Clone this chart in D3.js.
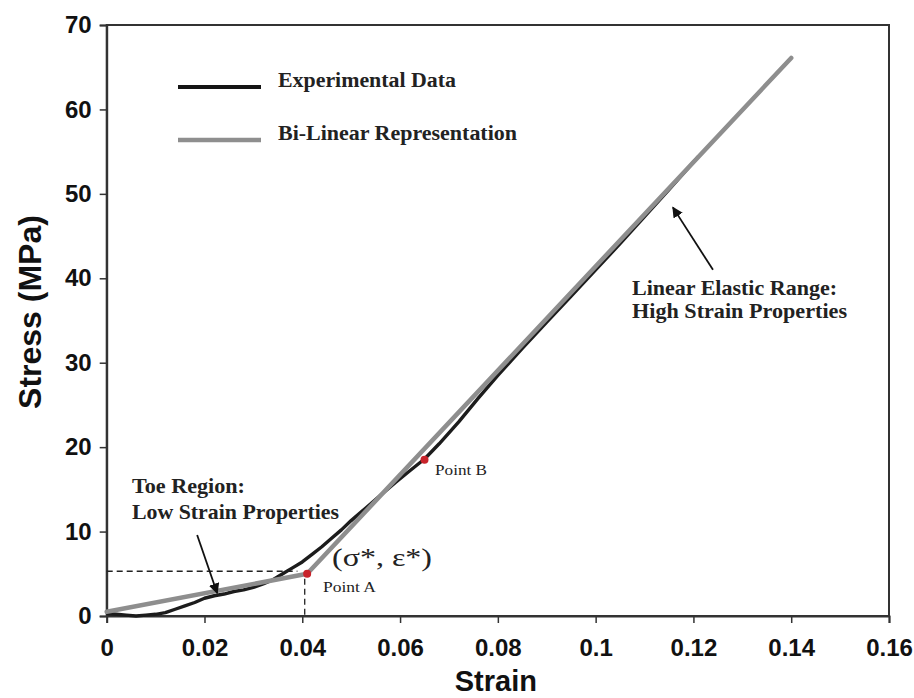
<!DOCTYPE html>
<html>
<head>
<meta charset="utf-8">
<script src="https://cdn.jsdelivr.net/npm/d3@7"></script>
<style>
  html, body { margin: 0; padding: 0; background: #fff; }
  svg { display: block; }
  .tick text { font-family: "Liberation Sans", Arial, sans-serif; font-weight: bold; font-size: 24px; fill: #111; }
  .serif { font-family: "Liberation Serif", "Times New Roman", serif; fill: #222; }
</style>
</head>
<body>
<div id="chart"></div>
<script>
// experimental stress-strain curve (strain, stress in MPa)
const expStrain = [0, 0.002, 0.004, 0.006, 0.008, 0.010, 0.012, 0.014, 0.016, 0.018, 0.020, 0.022, 0.024, 0.026,
  0.028, 0.030, 0.032, 0.034, 0.036, 0.038, 0.040, 0.042, 0.044, 0.046, 0.048, 0.050, 0.053, 0.056, 0.059, 0.062,
  0.065, 0.068, 0.072, 0.076, 0.080, 0.085, 0.090, 0.095, 0.100, 0.105, 0.110, 0.115, 0.121];
const expStress = [0.3, 0.2, 0.1, 0.0, 0.1, 0.2, 0.4, 0.8, 1.2, 1.6, 2.1, 2.4, 2.6, 2.9,
  3.1, 3.4, 3.8, 4.3, 5.0, 5.7, 6.4, 7.3, 8.2, 9.2, 10.2, 11.3, 12.8, 14.3, 15.8, 17.2,
  18.6, 20.4, 23.0, 25.8, 28.5, 31.7, 34.8, 37.9, 41.0, 44.1, 47.3, 50.5, 54.4];

// bi-linear fit
const fitStrain = [0, 0.041, 0.14];
const fitStress = [0.5, 5.0, 66.1];

// marked points
const pointNames = ['Point A', 'Point B'];
const pointStrain = [0.041, 0.065];
const pointStress = [5.0, 18.5];

// transition stress / strain guides
const sigmaStar = 5.3;
const epsStar = 0.0405;

const xTickValues = [0, 0.02, 0.04, 0.06, 0.08, 0.1, 0.12, 0.14, 0.16];
const yTickValues = [0, 10, 20, 30, 40, 50, 60, 70];

const width = 914, height = 698;
const margin = { top: 25, right: 25, bottom: 82, left: 106.7 };

const svg = d3.select('#chart').append('svg')
  .attr('width', width)
  .attr('height', height);

const x = d3.scaleLinear().domain([0, 0.16]).range([margin.left, width - margin.right]);
const y = d3.scaleLinear().domain([0, 70]).range([height - margin.bottom, margin.top]);

const defs = svg.append('defs');
defs.append('marker')
  .attr('id', 'head')
  .attr('viewBox', '0 0 10 10')
  .attr('refX', 9).attr('refY', 5)
  .attr('markerWidth', 6).attr('markerHeight', 6)
  .attr('markerUnits', 'strokeWidth')
  .attr('orient', 'auto')
  .append('path')
  .attr('d', 'M0,0 L10,5 L0,10 Z')
  .attr('fill', '#111');

// plot frame
svg.append('rect')
  .attr('x', x(0)).attr('y', y(70))
  .attr('width', x(0.16) - x(0)).attr('height', y(0) - y(70))
  .attr('fill', 'none').attr('stroke', '#333').attr('stroke-width', 2);

// axes
const xAxis = svg.append('g')
  .attr('transform', `translate(0,${y(0)})`)
  .call(d3.axisBottom(x).tickValues(xTickValues).tickSize(7).tickPadding(16)
    .tickFormat(d => String(+d.toFixed(2))));
const yAxis = svg.append('g')
  .attr('transform', `translate(${x(0)},0)`)
  .call(d3.axisLeft(y).tickValues(yTickValues).tickSize(7).tickPadding(8));
[xAxis, yAxis].forEach(g => {
  g.select('.domain').attr('stroke', '#333').attr('stroke-width', 2);
  g.selectAll('.tick line').attr('stroke', '#333').attr('stroke-width', 1.5);
});

svg.append('text')
  .attr('x', (x(0) + x(0.16)) / 2 - 2).attr('y', 691)
  .attr('text-anchor', 'middle')
  .style('font-family', '"Liberation Sans", Arial, sans-serif')
  .style('font-weight', 'bold').style('font-size', '29px').attr('fill', '#111')
  .text('Strain');

svg.append('text')
  .attr('transform', 'translate(41,312) rotate(-90)')
  .attr('text-anchor', 'middle')
  .style('font-family', '"Liberation Sans", Arial, sans-serif')
  .style('font-weight', 'bold').style('font-size', '32px').attr('fill', '#111')
  .text('Stress (MPa)');

// dashed guides at (sigma*, eps*)
svg.append('line')
  .attr('x1', x(0)).attr('x2', x(0.039))
  .attr('y1', y(sigmaStar)).attr('y2', y(sigmaStar))
  .attr('stroke', '#222').attr('stroke-width', 1.3).attr('stroke-dasharray', '6,4');
svg.append('line')
  .attr('x1', x(epsStar)).attr('x2', x(epsStar))
  .attr('y1', y(4.4)).attr('y2', y(0))
  .attr('stroke', '#222').attr('stroke-width', 1.3).attr('stroke-dasharray', '6,4');

// curves
const line = d3.line().x(d => x(d[0])).y(d => y(d[1]));
const expData = expStrain.map((s, i) => [s, expStress[i]]);
const fitData = fitStrain.map((s, i) => [s, fitStress[i]]);

svg.append('path')
  .datum(expData)
  .attr('d', line)
  .attr('fill', 'none').attr('stroke', '#1c1c1c').attr('stroke-width', 3.4)
  .attr('stroke-linejoin', 'round');

svg.append('path')
  .datum(fitData)
  .attr('d', line)
  .attr('fill', 'none').attr('stroke', '#8e8e8e').attr('stroke-width', 4.5)
  .attr('stroke-linecap', 'round').attr('stroke-linejoin', 'round');

svg.selectAll('circle.pt')
  .data(pointNames)
  .join('circle')
  .attr('class', 'pt')
  .attr('cx', (d, i) => x(pointStrain[i]))
  .attr('cy', (d, i) => y(pointStress[i]))
  .attr('r', 4)
  .attr('fill', '#c8232b');

// legend
const legend = [
  { label: 'Experimental Data', color: '#151515', w: 4, y: 87, len: 178 },
  { label: 'Bi-Linear Representation', color: '#8e8e8e', w: 4.5, y: 140, len: 239 }
];
legend.forEach(l => {
  svg.append('line')
    .attr('x1', 178).attr('x2', 261).attr('y1', l.y).attr('y2', l.y)
    .attr('stroke', l.color).attr('stroke-width', l.w);
  svg.append('text')
    .attr('class', 'serif')
    .attr('x', 278).attr('y', l.y)
    .attr('textLength', l.len).attr('lengthAdjust', 'spacingAndGlyphs')
    .style('font-weight', 'bold').style('font-size', '20px')
    .text(l.label);
});

// annotations
const notes = [
  { t: 'Toe Region:', x: 132, y: 493, len: 113, size: 21, bold: true },
  { t: 'Low Strain Properties', x: 132, y: 519, len: 207, size: 21, bold: true },
  { t: 'Linear Elastic Range:', x: 632, y: 295, len: 205, size: 21, bold: true },
  { t: 'High Strain Properties', x: 632, y: 318, len: 215, size: 21, bold: true },
  { t: 'Point A', x: 323, y: 592, len: 53, size: 15, bold: false },
  { t: 'Point B', x: 435, y: 475, len: 52, size: 15, bold: false },
  { t: '(σ*, ε*)', x: 332, y: 566, len: 100, size: 26, bold: false }
];
notes.forEach(n => {
  svg.append('text')
    .attr('class', 'serif')
    .attr('x', n.x).attr('y', n.y)
    .attr('textLength', n.len).attr('lengthAdjust', 'spacingAndGlyphs')
    .style('font-weight', n.bold ? 'bold' : 'normal')
    .style('font-size', n.size + 'px')
    .text(n.t);
});

// arrows (data coordinates: from -> to)
const arrows = [
  { from: [0.0185, 9.6], to: [0.0226, 2.7] },
  { from: [0.124, 41.0], to: [0.1158, 48.4] }
];
arrows.forEach(a => {
  svg.append('line')
    .attr('x1', x(a.from[0])).attr('y1', y(a.from[1]))
    .attr('x2', x(a.to[0])).attr('y2', y(a.to[1]))
    .attr('stroke', '#111').attr('stroke-width', 1.8)
    .attr('marker-end', 'url(#head)');
});
</script>
</body>
</html>
